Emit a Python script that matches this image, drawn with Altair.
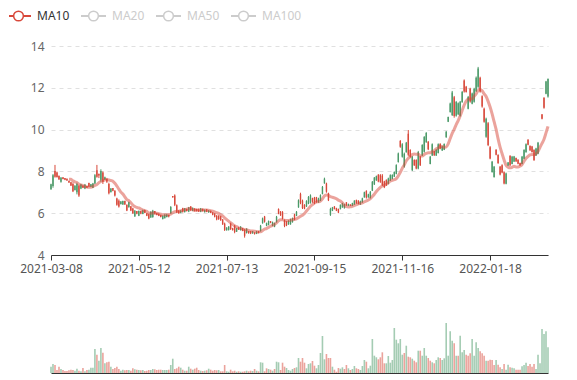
import altair as alt
import pandas as pd

# ---------------- data ----------------
tick_labels = ["2021-03-08", "2021-05-12", "2021-07-13", "2021-09-15", "2021-11-16", "2022-01-18"]
label_step = 44  # categories between labelled dates

open_p = [7.15,7.30,8.02,7.95,7.78,7.50,7.72,7.68,7.65,7.55,7.48,7.40,7.10,7.00,7.30,7.18,7.33,7.18,7.30,7.44,
          7.26,7.22,7.42,8.05,7.88,7.60,7.95,7.60,7.65,7.40,7.00,7.20,7.08,6.70,6.60,6.43,6.42,6.58,6.40,6.28,
          6.33,6.22,5.85,6.10,5.88,6.10,5.96,6.15,6.00,5.95,5.80,5.82,6.10,6.00,5.97,5.92,5.72,5.76,5.82,5.92,
          5.98,6.82,6.85,6.38,6.12,6.02,6.24,6.06,6.20,6.08,6.32,6.12,6.22,6.20,6.18,6.07,6.20,6.05,6.18,6.04,
          6.12,6.03,5.98,5.88,5.88,5.85,5.70,5.50,5.18,5.20,5.50,5.28,5.40,5.12,5.32,5.19,5.28,5.20,5.05,5.14,
          5.13,5.03,5.08,5.01,5.14,5.14,5.52,5.84,5.40,5.44,5.62,5.40,5.36,5.57,6.20,6.08,6.05,5.66,5.60,5.46,
          5.47,5.57,5.94,5.88,6.28,6.92,6.60,6.40,6.32,6.45,6.50,6.72,6.75,6.76,6.52,6.60,6.92,7.43,7.42,6.95,
          5.92,6.12,6.32,6.24,6.20,6.20,6.28,6.24,6.52,6.35,6.42,6.35,6.42,6.63,6.60,6.42,6.52,6.76,7.06,6.76,
          6.73,7.08,7.38,7.57,7.84,7.82,7.80,7.52,7.58,7.40,7.56,7.64,7.75,7.88,8.45,9.45,8.70,8.22,8.92,9.80,
          9.02,8.06,8.55,8.54,8.14,8.70,8.76,8.94,9.40,9.42,8.36,8.76,8.96,8.76,8.88,9.32,9.00,9.04,9.63,10.38,
          10.84,10.70,11.55,10.66,10.74,10.66,11.31,12.35,12.05,11.00,11.95,11.24,11.33,11.84,12.05,12.48,11.60,11.00,9.66,10.30,
          9.16,7.97,7.73,9.04,8.78,8.22,8.30,7.96,7.41,8.28,8.74,8.36,8.47,8.64,8.56,8.40,8.36,8.60,8.92,9.52,
          9.22,9.19,9.02,8.76,8.85,10.30,10.73,11.53,11.72,11.58]
high_p = [7.41,7.87,8.31,7.99,7.81,7.73,7.72,7.68,7.66,7.55,7.50,7.46,7.35,7.46,7.36,7.40,7.33,7.40,7.30,7.46,
          7.40,7.45,7.87,8.31,7.90,8.10,8.00,7.75,7.65,7.46,7.20,7.20,7.10,6.74,6.66,6.58,6.60,6.60,6.42,6.55,
          6.34,6.26,6.15,6.10,6.13,6.10,6.17,6.17,6.00,5.97,6.10,6.16,6.10,6.02,5.98,5.92,5.90,5.95,5.95,5.92,
          6.34,6.82,6.90,6.42,6.15,6.15,6.26,6.25,6.22,6.30,6.34,6.28,6.24,6.22,6.22,6.25,6.22,6.18,6.20,6.15,
          6.12,6.05,6.00,5.91,5.90,5.88,5.72,5.55,5.33,5.38,5.55,5.30,5.44,5.30,5.33,5.38,5.30,5.24,5.28,5.15,
          5.15,5.15,5.08,5.15,5.15,5.44,5.79,5.87,5.55,5.65,5.62,5.60,5.55,5.87,6.23,6.10,6.10,5.70,5.62,5.66,
          5.74,5.79,5.97,6.10,6.66,6.98,6.65,6.43,6.62,6.82,6.90,6.74,6.78,6.78,6.74,6.90,7.30,7.70,7.46,6.98,
          6.26,6.30,6.34,6.26,6.22,6.42,6.50,6.45,6.53,6.46,6.42,6.50,6.62,6.65,6.62,6.60,6.74,7.03,7.10,6.93,
          7.06,7.54,7.73,7.80,7.87,7.87,7.87,7.55,7.62,7.70,7.86,7.86,8.00,8.34,8.90,9.50,9.35,8.90,9.41,9.98,
          9.06,8.74,8.58,8.58,8.98,8.74,9.30,9.69,9.88,9.45,8.74,9.34,8.98,9.06,9.34,9.34,9.22,9.34,9.93,10.62,
          11.29,11.85,11.61,11.37,11.30,11.37,11.85,12.40,12.09,11.61,12.00,11.77,12.00,12.54,13.00,12.53,11.64,11.05,10.57,10.36,
          9.21,8.50,8.26,9.06,8.82,8.26,8.34,8.00,7.94,8.45,8.78,8.74,8.74,8.66,8.58,8.42,8.74,9.06,9.34,9.54,
          9.25,9.22,9.06,9.13,9.41,10.30,10.73,11.53,12.33,12.45]
low_p = [7.12,7.22,7.70,7.70,7.59,7.46,7.62,7.58,7.55,7.45,7.30,7.01,7.10,6.90,6.78,7.15,7.20,7.15,7.20,7.25,
         7.25,7.20,7.40,7.70,7.68,7.50,7.40,7.60,7.45,6.90,7.00,7.05,6.80,6.36,6.27,6.43,6.40,6.40,6.10,6.27,
         6.10,5.97,5.82,5.95,5.86,5.95,5.95,6.00,5.86,5.71,5.78,5.78,5.95,5.90,5.86,5.80,5.70,5.75,5.80,5.80,
         5.97,6.74,6.34,6.00,5.97,6.00,6.03,6.03,6.08,6.05,6.10,6.10,6.08,6.08,6.06,6.05,6.08,6.03,6.05,6.02,
         6.00,5.90,5.80,5.66,5.68,5.64,5.44,5.15,5.17,5.17,5.20,5.17,5.04,5.10,5.20,5.17,5.14,4.83,5.03,5.02,
         5.00,5.02,4.98,5.00,5.03,5.12,5.50,5.55,5.38,5.42,5.52,5.38,5.33,5.55,5.95,5.87,5.70,5.33,5.38,5.45,
         5.45,5.55,5.66,5.86,6.26,6.43,6.20,6.19,6.30,6.43,6.46,6.50,6.43,6.50,6.50,6.58,6.90,7.41,6.98,6.58,
         5.87,6.10,6.18,6.10,6.00,6.18,6.26,6.22,6.35,6.34,6.34,6.34,6.40,6.45,6.42,6.40,6.50,6.74,6.70,6.74,
         6.70,7.06,7.35,7.55,7.48,7.45,7.30,7.20,7.30,7.38,7.54,7.62,7.73,7.86,8.42,9.13,8.66,8.18,8.90,8.74,
         8.66,8.02,8.26,8.10,8.10,8.26,8.74,8.90,9.37,9.02,8.34,8.74,8.74,8.74,8.86,9.06,8.98,9.02,9.61,10.36,
         10.81,10.65,10.57,10.62,10.70,10.62,11.29,11.77,11.77,10.97,11.29,11.21,11.29,11.80,12.00,11.77,11.05,10.33,9.61,9.21,
         8.58,7.94,7.70,8.77,8.36,7.81,7.91,7.38,7.38,8.26,8.26,8.34,8.45,8.45,8.34,8.26,8.34,8.58,8.90,9.25,
         8.98,8.90,8.50,8.74,8.82,10.30,10.49,11.00,11.69,11.53]
close_p = [7.38,7.82,7.75,7.73,7.62,7.70,7.64,7.60,7.57,7.47,7.33,7.05,7.30,7.40,6.85,7.37,7.22,7.36,7.22,7.28,
           7.38,7.42,7.82,7.75,7.80,8.02,7.50,7.72,7.50,6.95,7.18,7.08,6.85,6.40,6.32,6.56,6.58,6.42,6.13,6.52,
           6.13,6.00,6.12,5.97,6.10,5.98,6.14,6.02,5.88,5.75,6.06,6.12,5.98,5.92,5.88,5.82,5.88,5.92,5.94,5.84,
           6.30,6.76,6.40,6.05,6.00,6.12,6.08,6.22,6.10,6.27,6.15,6.25,6.12,6.10,6.08,6.22,6.10,6.16,6.07,6.13,
           6.02,5.92,5.83,5.70,5.72,5.66,5.47,5.20,5.31,5.36,5.24,5.19,5.10,5.28,5.22,5.35,5.16,4.92,5.25,5.04,
           5.03,5.13,5.00,5.13,5.06,5.40,5.75,5.60,5.52,5.62,5.54,5.57,5.52,5.83,5.98,5.90,5.75,5.38,5.42,5.63,
           5.70,5.76,5.70,6.07,6.62,6.50,6.25,6.22,6.58,6.78,6.85,6.55,6.48,6.55,6.70,6.86,7.26,7.65,7.03,6.62,
           6.20,6.27,6.20,6.12,6.03,6.40,6.47,6.42,6.38,6.44,6.36,6.48,6.60,6.48,6.45,6.57,6.71,7.00,6.75,6.90,
           7.02,7.50,7.70,7.77,7.52,7.50,7.35,7.25,7.34,7.66,7.82,7.83,7.97,8.30,8.86,9.18,9.30,8.85,9.37,8.80,
           8.70,8.70,8.30,8.14,8.93,8.30,9.26,9.64,9.84,9.06,8.70,9.30,8.77,9.03,9.30,9.09,9.19,9.31,9.90,10.60,
           11.25,11.78,10.65,11.32,11.26,11.33,11.80,11.82,11.80,11.56,11.35,11.73,11.95,12.48,12.92,11.82,11.10,10.38,10.52,9.26,
           8.62,8.46,8.22,8.80,8.40,7.85,7.95,7.42,7.90,8.42,8.30,8.70,8.71,8.48,8.37,8.29,8.70,9.02,9.30,9.28,
           9.01,8.93,8.55,9.10,9.37,10.30,10.52,11.05,12.30,12.42]
volume = [63,90,80,30,63,40,30,20,20,27,33,30,23,43,23,17,50,17,30,33,
          53,53,240,183,123,250,203,97,107,113,63,40,50,63,40,23,33,27,30,30,
          23,47,37,33,30,27,30,20,23,30,30,40,37,30,33,33,30,30,30,33,
          80,143,40,47,63,53,33,23,23,63,43,33,43,53,30,23,20,23,27,43,
          33,23,30,27,30,17,17,80,17,13,33,17,23,13,17,13,13,17,23,17,
          23,20,40,23,17,107,103,17,47,40,33,23,40,113,107,30,103,63,50,
          30,23,40,50,57,150,113,150,103,47,90,97,120,73,47,80,200,370,137,190,
          150,150,63,33,13,50,43,57,40,80,47,30,40,70,47,40,30,70,130,113,
          47,73,340,173,157,137,157,207,97,97,170,103,130,450,333,297,340,183,200,273,
          163,157,143,123,107,223,223,173,250,173,150,123,107,97,130,157,150,130,147,500,
          173,417,323,297,173,173,373,207,230,183,173,197,340,173,307,250,217,197,173,123,
          123,133,130,80,130,83,57,40,90,33,83,57,53,47,33,33,33,67,80,103,
          70,90,63,90,40,183,97,440,390,417,257]
legend_names = ["MA10", "MA20", "MA50", "MA100"]
legend_active = ["MA10"]

# ---------------- table ----------------
n = len(close_p)
df = pd.DataFrame({
    "i": list(range(n)),
    "open": open_p, "high": high_p, "low": low_p, "close": close_p,
    "volume": volume,
})
df["ma10"] = df["close"].rolling(10).mean()
df["vol_up"] = df["close"].diff().fillna(0) >= 0

UP = "#4a9968"
DOWN = "#d8483a"
FONT = "Noto Sans"
W, H, VH = 497, 209, 72

tick_pos = [k * label_step for k in range(len(tick_labels))]
label_expr = "[" + ",".join("'%s'" % t for t in tick_labels) + "][round(datum.value / %d)]" % label_step

xscale = alt.Scale(domain=[0, n - 1], nice=False, zero=False, padding=0)
x_axis = alt.Axis(
    values=tick_pos, labelExpr=label_expr, grid=False, title=None,
    domainColor="#333333", tickColor="#333333", tickSize=5,
    labelColor="#555555", labelFontSize=12, labelFont=FONT, labelPadding=3,
    labelFlush=False, labelOverlap=False)
yscale = alt.Scale(domain=[4, 14], nice=False, zero=False)
y_axis = alt.Axis(values=[4, 6, 8, 10, 12, 14], grid=True, gridDash=[4, 4], gridColor="#e0e0e0",
                  domain=False, ticks=False, labelColor="#666666", labelFontSize=12,
                  labelFont=FONT, labelPadding=7, title=None)


def X():
    return alt.X("i:Q", scale=xscale, axis=x_axis)


def Y(field):
    return alt.Y(field, type="quantitative", scale=yscale, axis=y_axis)


candle_color = alt.condition("datum.close >= datum.open", alt.value(UP), alt.value(DOWN))
base = alt.Chart(df)

wick = base.mark_rule(strokeWidth=1).encode(x=X(), y=Y("low"), y2="high", color=candle_color)
body = base.mark_bar(width=1.4).encode(x=X(), y=Y("open"), y2="close", color=candle_color)
ma = base.mark_line(interpolate="monotone", strokeWidth=3, color=DOWN, opacity=0.5).encode(
    x=X(), y=Y("ma10"))

# legend (decoration) -- items every 75px, like the reference
legend_layers = []
for k, name in enumerate(legend_names):
    col = DOWN if name in legend_active else "#cccccc"
    tcol = "#333333" if name in legend_active else "#cccccc"
    ldf = pd.DataFrame({"name": [name]})
    x0 = max(-42, -45 + 75 * k)
    legend_layers.append(alt.Chart(ldf).mark_rule(strokeWidth=2, color=col).encode(
        x=alt.value(x0), x2=alt.value(-20 + 75 * k), y=alt.value(-30)))
    legend_layers.append(alt.Chart(ldf).mark_point(
        shape="circle", filled=True, fill="white", stroke=col, strokeWidth=1.5, size=95, opacity=1).encode(
        x=alt.value(-32.5 + 75 * k), y=alt.value(-30)))
    legend_layers.append(alt.Chart(ldf).mark_text(
        align="left", baseline="middle", fontSize=12, font=FONT, color=tcol).encode(
        x=alt.value(-14 + 75 * k), y=alt.value(-30), text="name:N"))

top = alt.layer(wick, body, ma, *legend_layers).properties(width=W, height=H)

vol = base.mark_bar(width=1.6, opacity=0.5).encode(
    x=alt.X("i:Q", scale=xscale, axis=alt.Axis(labels=False, ticks=False, grid=False, title=None,
                                                 domainColor="#333333")),
    y=alt.Y("volume:Q", scale=alt.Scale(domain=[0, 720], nice=False), axis=None),
    color=alt.condition("datum.vol_up", alt.value(UP), alt.value(DOWN)),
).properties(width=W, height=VH)

chart = alt.vconcat(top, vol, spacing=46, bounds="flush").properties(
    padding={"left": 0, "top": 0, "right": 5, "bottom": 2}
).configure_view(stroke=None)

chart.save("out.html", embed_options={"renderer": "svg", "actions": False})
